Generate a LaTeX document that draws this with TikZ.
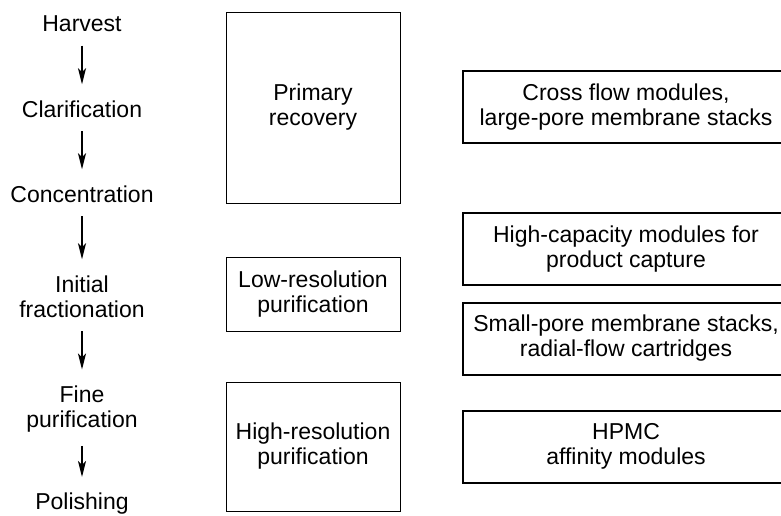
\documentclass[tikz,border=0pt]{standalone}
\usepackage{fontspec}
\setmainfont{Liberation Sans}
\usetikzlibrary{arrows.meta,positioning}

\begin{document}
\begin{tikzpicture}[
    x=0.75pt, y=-0.75pt,
    every node/.style={font=\fontsize{17.25}{18.75}\selectfont, align=center},
    stage/.style={inner sep=0pt},
    phase/.style={rectangle, draw, line width=0.75pt, minimum width=130.5pt},
    module/.style={rectangle, draw, line width=1.5pt, minimum width=244.5pt, minimum height=54pt},
    flow/.style={-{Stealth[length=12pt, width=6pt, inset=3pt]}, line width=1.5pt}
]
\clip (0,0) rectangle (781,515);

% Process stages
\node[stage] (harvest) at (82,24) {Harvest};
\node[stage] (clarif) at (82,109) {Clarification};
\node[stage] (concen) at (82,194) {Concentration};
\node[stage] (initfrac) at (82,296.5) {Initial\\fractionation};
\node[stage] (finepur) at (82,409) {Fine\\purification};
\node[stage] (polish) at (82,504) {Polishing};

% Purification phases
\node[phase, minimum height=143.25pt] (primary) at (313,107.5) {Primary\\recovery};
\node[phase, minimum height=55.5pt] (lowres) at (313,294) {Low-resolution\\purification};
\node[phase, minimum height=96.75pt] (highres) at (313,446.5) {High-resolution\\purification};

% Modules
\node[module] (crossflow) at (626,107) {Cross flow modules,\\large-pore membrane stacks};
\node[module] (highcap) at (626,249) {High-capacity modules for\\product capture};
\node[module] (smallpore) at (626,338.5) {Small-pore membrane stacks,\\radial-flow cartridges};
\node[module] (hpmc) at (626,446.5) {HPMC\\affinity modules};

% Arrows
\draw[flow, shorten <=10pt, shorten >=12pt] (harvest) -- (clarif);
\draw[flow, shorten <=10pt, shorten >=12pt] (clarif) -- (concen);
\draw[flow, shorten <=10pt, shorten >=12pt] (concen) -- (initfrac);
\draw[flow, shorten <=10pt, shorten >=12pt] (initfrac) -- (finepur);
\draw[flow, shorten <=10pt, shorten >=12pt] (finepur) -- (polish);

\end{tikzpicture}
\end{document}
